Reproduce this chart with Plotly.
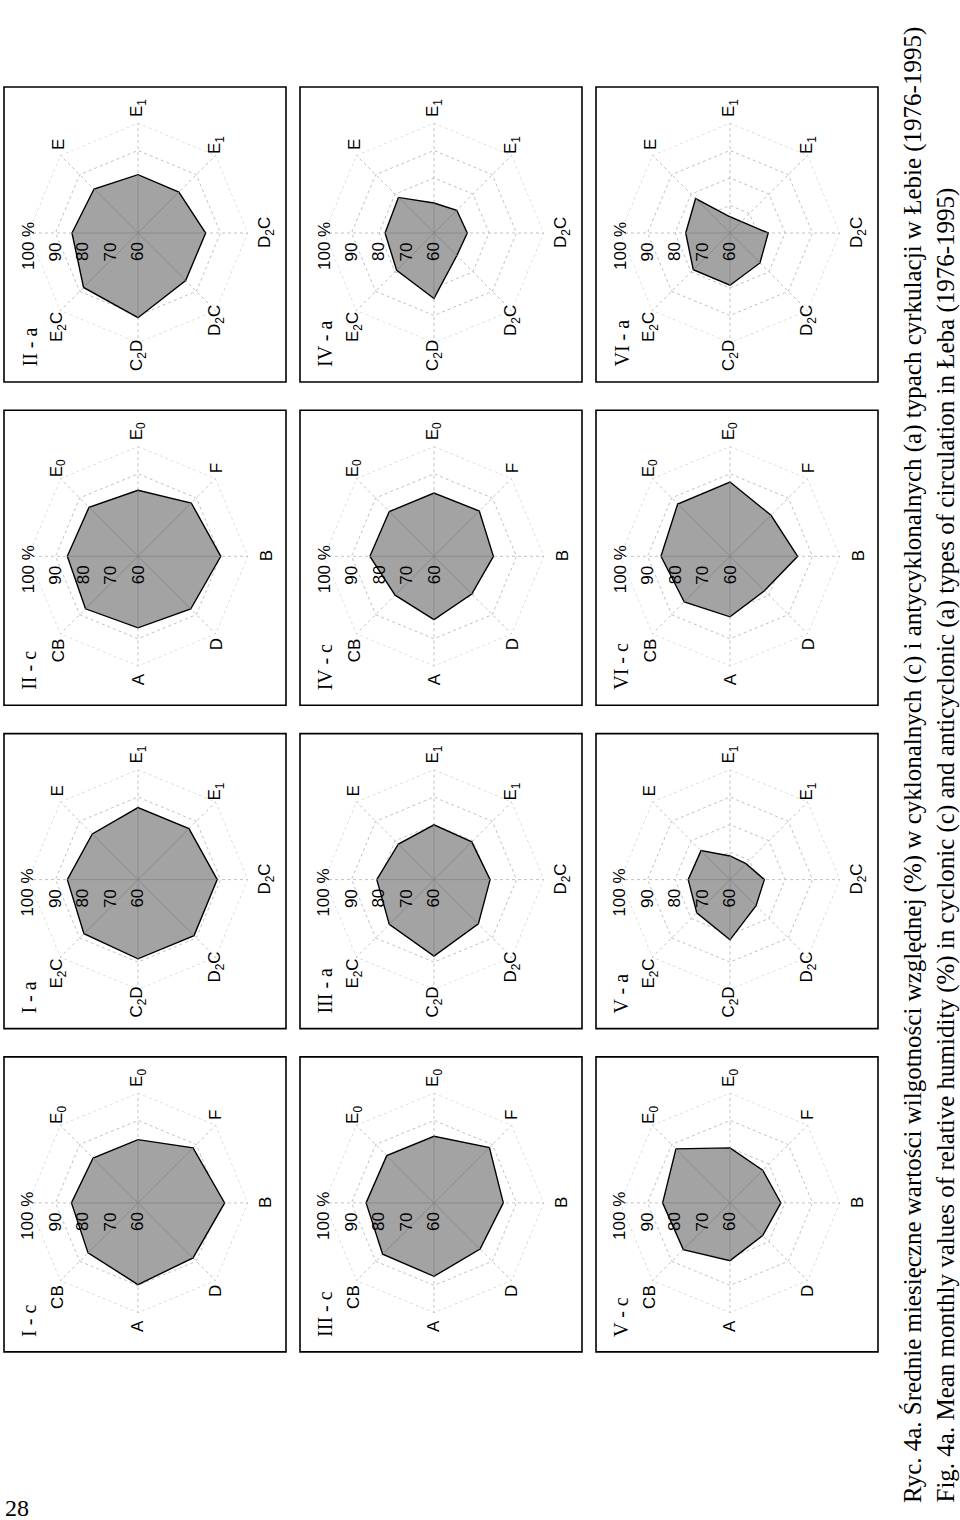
import plotly.graph_objects as go

W, H = 960, 1520

# spokes, clockwise from the reading-top axis (which carries the % scale)
spokes = ["s0", "s1", "s2", "s3", "s4", "s5", "s6", "s7"]
labels_c = ["", "E<sub>0</sub>", "E<sub>0</sub>", "F", "B", "D", "A", "CB"]
labels_a = ["", "E", "E<sub>1</sub>", "E<sub>1</sub>", "D<sub>2</sub>C", "D<sub>2</sub>C", "C<sub>2</sub>D", "E<sub>2</sub>C"]
radial_ticks = [60, 70, 80, 90, 100]
radial_tick_text = ["60", "70", "80", "90", "100 %"]

# relative humidity (%) per spoke
I_c   = [84.2, 83.1, 83.0, 88.3, 91.5, 88.3, 89.7, 85.7]
I_a   = [85.7, 83.5, 86.2, 86.2, 88.8, 88.8, 88.8, 87.8]
II_c  = [85.7, 85.2, 84.0, 87.4, 90.1, 87.1, 86.0, 87.0]
II_a  = [84.0, 82.6, 81.2, 81.0, 84.6, 84.5, 90.8, 88.0]
III_c = [84.7, 84.3, 84.2, 88.5, 85.2, 83.7, 86.7, 86.4]
III_a = [80.8, 78.3, 79.9, 79.4, 80.4, 82.8, 87.8, 83.0]
IV_c  = [83.3, 83.0, 83.0, 83.3, 81.6, 79.4, 83.0, 80.0]
IV_a  = [77.8, 78.3, 70.9, 71.7, 72.1, 71.7, 83.8, 79.2]
V_c   = [84.5, 87.8, 80.0, 76.8, 78.5, 76.8, 81.0, 84.0]
V_a   = [75.2, 74.9, 68.6, 68.2, 72.5, 73.4, 81.9, 77.1]
VI_c  = [85.1, 86.9, 87.0, 81.1, 84.6, 77.7, 82.0, 83.5]
VI_a  = [76.1, 77.7, 65.9, 65.9, 73.9, 75.4, 79.0, 78.9]

panels = [
    ("I - c", I_c, "c", 1), ("I - a", I_a, "a", 1),
    ("II - c", II_c, "c", 2), ("II - a", II_a, "a", 2),
    ("III - c", III_c, "c", 3), ("III - a", III_a, "a", 3),
    ("IV - c", IV_c, "c", 4), ("IV - a", IV_a, "a", 4),
    ("V - c", V_c, "c", 5), ("V - a", V_a, "a", 5),
    ("VI - c", VI_c, "c", 6), ("VI - a", VI_a, "a", 6),
]

caption_pl = ("Ryc. 4a. Średnie miesięczne wartości wilgotności względnej (%) w cyklonalnych (c) "
              "i antycyklonalnych (a) typach cyrkulacji w Łebie (1976-1995)")
caption_en = ("Fig. 4a. Mean monthly values of relative humidity (%) in cyclonic (c) "
              "and anticyclonic (a) types of circulation in Łeba (1976-1995)")
page_no = "28"

# ---------------- layout geometry (pixels) ----------------
BOX_W, BOX_H = 282, 295
COL_X0, COL_PITCH = 4, 296
ROW_Y0, ROW_PITCH = 87, 323.3
CX_OFF, CY_OFF = 134, 146
R_PX = 110

SANS = "Liberation Sans, Arial, sans-serif"
SERIF = "Liberation Serif, Times New Roman, serif"
GRID = "#c2c2c2"

fig = go.Figure()
annotations = []
shapes = []


def px(x):
    return x / W


def py(y):
    return 1 - y / H


# label offsets in image pixels (dx, dy) for spokes 1..7
label_off = {1: (-80, -88), 2: (0, -125), 3: (78, -88), 4: (128, 0),
             5: (78, 88), 6: (0, 123), 7: (-80, 94)}

for i, (title, vals, kind, month) in enumerate(panels):
    rrow = (month - 1) // 2
    rcol = ((month - 1) % 2) * 2 + (0 if kind == "c" else 1)
    icol = rrow
    irow = 3 - rcol
    left = COL_X0 + COL_PITCH * icol
    top = ROW_Y0 + ROW_PITCH * irow
    cx, cy = left + CX_OFF, top + CY_OFF
    pname = "polar" if i == 0 else f"polar{i+1}"
    sub = pname

    shapes.append(dict(type="rect", xref="paper", yref="paper",
                       x0=px(left), x1=px(left + BOX_W), y0=py(top + BOX_H), y1=py(top),
                       line=dict(color="black", width=1.6), layer="above"))

    # outer 100 % ring (dotted, like the other rings)
    fig.add_trace(go.Scatterpolar(
        r=[radial_ticks[-1]] * 9, theta=spokes + [spokes[0]], mode="lines",
        line=dict(color=GRID, width=1, dash="dot"), subplot=sub, showlegend=False,
        hoverinfo="skip"))
    fig.add_trace(go.Scatterpolar(
        r=vals + [vals[0]], theta=spokes + [spokes[0]], mode="lines",
        fill="toself", fillcolor="#a3a3a3",
        line=dict(color="black", width=1.4), subplot=sub, showlegend=False,
        hoverinfo="skip"))
    rr, tt = [], []
    for s, v in zip(spokes, vals):
        rr += [60, v, None]
        tt += [s, s, None]
    fig.add_trace(go.Scatterpolar(
        r=rr, theta=tt, mode="lines", line=dict(color="#858585", width=0.8),
        subplot=sub, showlegend=False, hoverinfo="skip", connectgaps=False))

    fig.update_layout(**{pname: dict(
        domain=dict(x=[px(cx - R_PX), px(cx + R_PX)], y=[py(cy + R_PX), py(cy - R_PX)]),
        bgcolor="white",
        gridshape="linear",
        radialaxis=dict(range=[60, 100], tickvals=radial_ticks[1:], showticklabels=False,
                        ticks="", showline=False, gridcolor=GRID, griddash="dot",
                        gridwidth=1),
        angularaxis=dict(type="category", categoryorder="array", categoryarray=spokes,
                         rotation=180, direction="clockwise",
                         showticklabels=False, ticks="",
                         showline=False, gridcolor=GRID, griddash="dot", gridwidth=1),
    )})

    labels = labels_c if kind == "c" else labels_a
    for k in range(1, 8):
        dx, dy = label_off[k]
        annotations.append(dict(x=px(cx + dx), y=py(cy + dy), xref="paper", yref="paper",
                                text=labels[k], showarrow=False, textangle=-90,
                                xanchor="center", yanchor="middle",
                                font=dict(family=SANS, size=17, color="black")))
    for t, txt in zip(radial_ticks, radial_tick_text):
        d = (t - 60) / 40 * R_PX
        yoff = 13 if txt.endswith("%") else 19
        annotations.append(dict(x=px(cx - d), y=py(cy + yoff), xref="paper", yref="paper",
                                text=txt, showarrow=False, textangle=-90,
                                xanchor="center", yanchor="middle",
                                font=dict(family=SANS, size=17, color="black")))
    annotations.append(dict(x=px(left + 12), y=py(top + BOX_H - 13), xref="paper", yref="paper",
                            text=title, showarrow=False, textangle=-90,
                            xanchor="left", yanchor="bottom",
                            font=dict(family=SERIF, size=20, color="black")))

annotations.append(dict(x=px(913), y=py(1505), xref="paper", yref="paper", text=caption_pl,
                        showarrow=False, textangle=-90, xanchor="center", yanchor="bottom",
                        font=dict(family=SERIF, size=25, color="black")))
annotations.append(dict(x=px(945), y=py(1505), xref="paper", yref="paper", text=caption_en,
                        showarrow=False, textangle=-90, xanchor="center", yanchor="bottom",
                        font=dict(family=SERIF, size=25, color="black")))
annotations.append(dict(x=px(17), y=py(1508), xref="paper", yref="paper", text=page_no,
                        showarrow=False, xanchor="center", yanchor="middle",
                        font=dict(family=SERIF, size=24, color="black")))

fig.update_layout(width=W, height=H, margin=dict(l=0, r=0, t=0, b=0),
                  paper_bgcolor="white", plot_bgcolor="white",
                  annotations=annotations, shapes=shapes, showlegend=False)

fig.write_html("out.html")
